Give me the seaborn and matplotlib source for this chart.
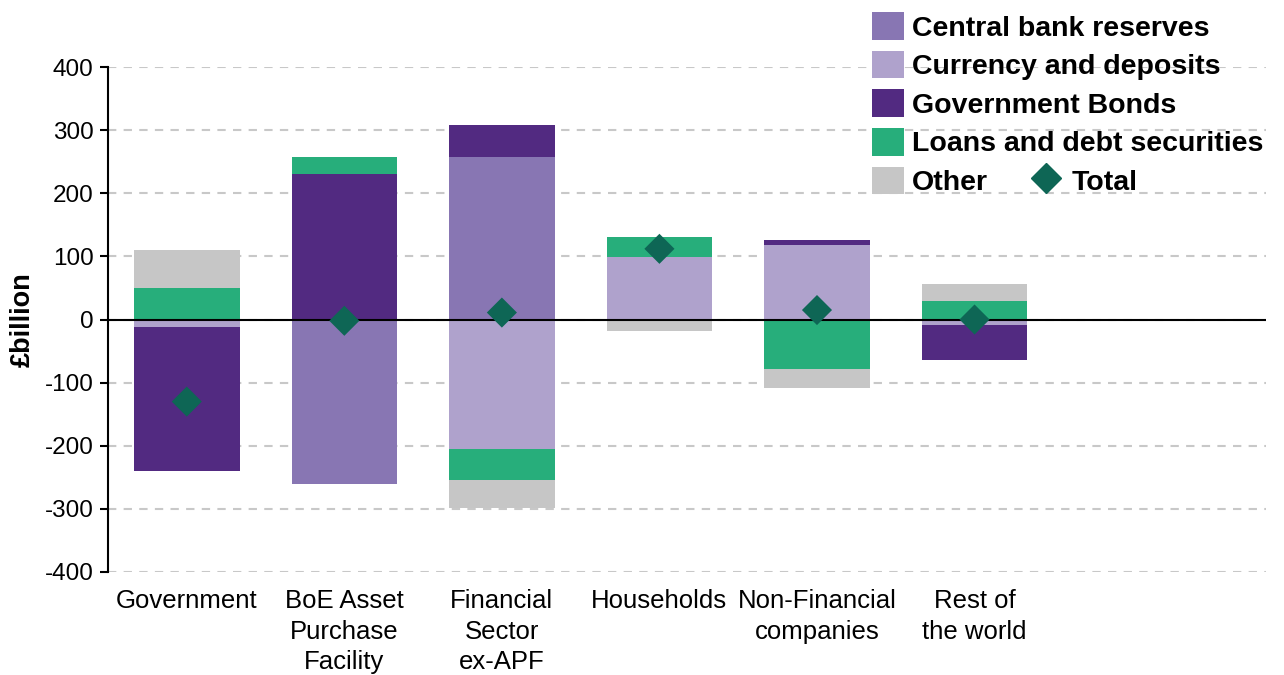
import matplotlib

matplotlib.use("Agg")

import matplotlib.pyplot as plt
import numpy as np
import seaborn as sns
from matplotlib.lines import Line2D
from matplotlib.patches import Patch

categories = [
    "Government",
    "BoE Asset\nPurchase\nFacility",
    "Financial\nSector\nex-APF",
    "Households",
    "Non-Financial\ncompanies",
    "Rest of\nthe world",
]
series_names = [
    "Central bank reserves",
    "Currency and deposits",
    "Government Bonds",
    "Loans and debt securities",
    "Other",
]
central_bank_reserves = [0, -260, 258, 0, 0, 0]
currency_deposits = [-12, 0, -205, 99, 118, -9]
government_bonds = [-228, 230, 50, 0, 8, -55]
loans_debt = [50, 28, -50, 31, -79, 29]
other = [60, 0, -44, -18, -30, 27]
total = [-130, -2, 11, 112, 15, 0]

colors = ["#8876B3", "#AFA2CC", "#522A81", "#27AE7B", "#C6C6C6"]
total_color = "#0E6655"

sns.set_style("white")
plt.rcParams["font.family"] = ["Liberation Sans", "DejaVu Sans"]
plt.rcParams["axes.unicode_minus"] = False
for key in ["text.color", "axes.labelcolor", "xtick.color", "ytick.color"]:
    plt.rcParams[key] = "black"

fig = plt.figure(figsize=(12.84, 6.75), dpi=100)
ax = fig.add_axes([0.0841, 0.1526, 0.986 - 0.0841, 0.9007 - 0.1526])

values = np.array([central_bank_reserves, currency_deposits, government_bonds, loans_debt, other], dtype=float)
pos_cum = np.cumsum(np.clip(values, 0, None), axis=0)
neg_cum = np.cumsum(np.clip(values, None, 0), axis=0)

# draw cumulative layers from the outside in so inner layers cover outer ones
for k in range(len(series_names) - 1, -1, -1):
    for cum in (pos_cum, neg_cum):
        sns.barplot(x=categories, y=cum[k], color=colors[k], saturation=1,
                    width=0.67, linewidth=0, ax=ax, zorder=2)

sns.scatterplot(x=categories, y=total, marker="D", s=235, color=total_color,
                edgecolor="none", ax=ax, zorder=4)

ax.axhline(0, color="black", lw=1.5, zorder=3)
ax.set_ylim(-400, 400)
ax.set_xlim(-0.5, 6.85)
ax.set_yticks(range(-400, 401, 100))
ax.yaxis.grid(True, color="#C8C8C8", lw=1.5, linestyle=(0, (4, 3.5)))
ax.xaxis.grid(False)
ax.set_axisbelow(True)

for side in ["top", "right", "bottom"]:
    ax.spines[side].set_visible(False)
ax.spines["left"].set_color("black")
ax.spines["left"].set_linewidth(1.5)

ax.tick_params(axis="y", left=True, length=5.5, width=1.5, color="black", pad=5, labelsize=17.5)
ax.tick_params(axis="x", bottom=False, pad=9, labelsize=18.5)
for lab in ax.get_xticklabels():
    lab.set_linespacing(1.33)
    lab.set_verticalalignment("top")
ax.set_ylabel("£billion", fontsize=19.5, fontweight="bold", labelpad=6)
ax.set_xlabel("")

legend_font = {"weight": "bold", "size": 20.5}
handles = [Patch(facecolor=c, edgecolor="none") for c in colors]
fig.legend(handles, series_names, loc="upper left", bbox_to_anchor=(872 / 1284, 1 - 12 / 675),
           frameon=False, prop=legend_font, handlelength=1.12, handleheight=1.12,
           labelspacing=0.32, handletextpad=0.28, borderpad=0, borderaxespad=0)
total_handle = Line2D([], [], marker="D", ms=15, color=total_color, lw=0)
fig.legend([total_handle], ["Total"], loc="upper left", bbox_to_anchor=(1031 / 1284, 1 - 166 / 675),
           frameon=False, prop=legend_font, handlelength=1.05, handleheight=1.12,
           handletextpad=0.38, borderpad=0, borderaxespad=0)

fig.savefig("out.png", dpi=100)
